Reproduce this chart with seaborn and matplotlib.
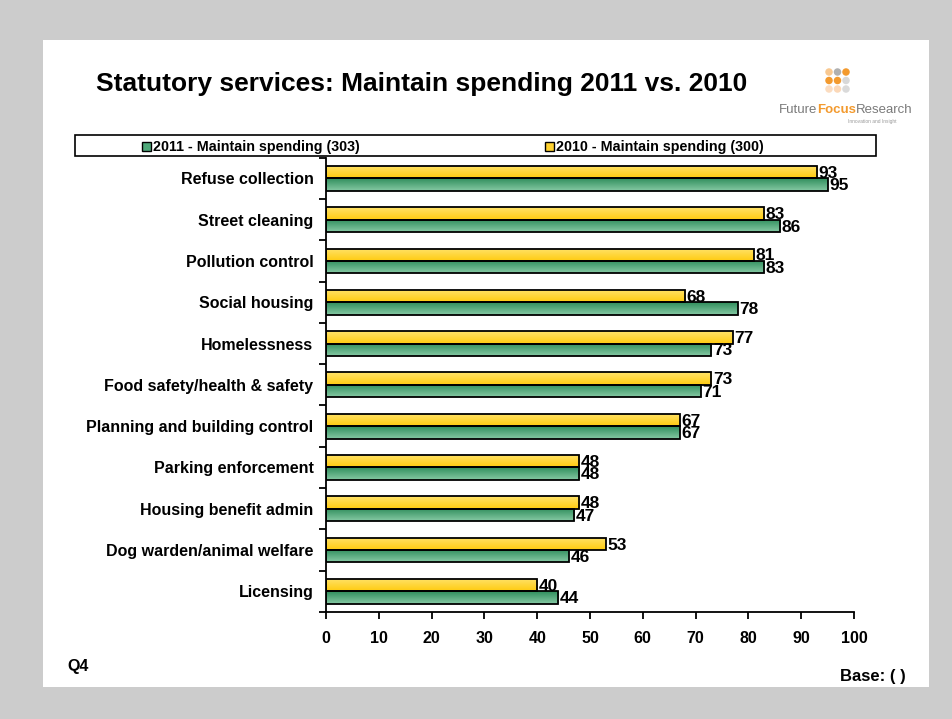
import numpy as np
import pandas as pd
import matplotlib
matplotlib.use("Agg")
import matplotlib.pyplot as plt
from matplotlib.patches import Rectangle, Ellipse
from matplotlib.colors import LinearSegmentedColormap
import seaborn as sns

# ---- data ----
services = [
    "Refuse collection", "Street cleaning", "Pollution control", "Social housing",
    "Homelessness", "Food safety/health & safety", "Planning and building control",
    "Parking enforcement", "Housing benefit admin", "Dog warden/animal welfare",
    "Licensing",
]
maintain_2011 = [95, 86, 83, 78, 73, 71, 67, 48, 47, 46, 44]
maintain_2010 = [93, 83, 81, 68, 77, 73, 67, 48, 48, 53, 40]
series_2011 = "2011 - Maintain spending (303)"
series_2010 = "2010 - Maintain spending (300)"
x_ticks = [0, 10, 20, 30, 40, 50, 60, 70, 80, 90, 100]

df = pd.DataFrame({
    "service": services * 2,
    "value": maintain_2010 + maintain_2011,
    "series": [series_2010] * len(services) + [series_2011] * len(services),
})

sns.set_theme(style="white")
plt.rcParams["font.family"] = ["Liberation Sans", "DejaVu Sans"]
plt.rcParams["font.weight"] = "bold"
plt.rcParams["text.color"] = "black"
plt.rcParams["xtick.labelcolor"] = "black"
plt.rcParams["ytick.labelcolor"] = "black"

W, H = 952, 719
fig = plt.figure(figsize=(W / 100, H / 100), dpi=100, facecolor="#cccccc")

# white slide panel (behind everything)
fig.patches.append(Rectangle((43 / W, 1 - 687 / H), 886 / W, 647 / H,
                             transform=fig.transFigure, facecolor="white",
                             edgecolor="none", zorder=-5))

ax = fig.add_axes([326 / W, 1 - 612 / H, (854 - 326) / W, (612 - 157.7) / H])
ax.set_facecolor("none")

yellow = "#FFD230"
green = "#4FA97A"
sns.barplot(data=df, y="service", x="value", hue="series",
            hue_order=[series_2010, series_2011], order=services,
            palette=[yellow, green], width=0.6, orient="h",
            edgecolor="black", linewidth=1.3, legend=False, ax=ax)

# vertical gradient fills clipped to each bar
grad_y = LinearSegmentedColormap.from_list("gy", ["#FFE36A", "#FFCB10"])
grad_g = LinearSegmentedColormap.from_list("gg", ["#2F8E5C", "#86C9A4"])
ramp = np.linspace(0, 1, 64).reshape(-1, 1)
for p in list(ax.patches):
    x0, y0 = p.get_x(), p.get_y()
    w, h = p.get_width(), p.get_height()
    if w <= 0:
        continue
    fc = p.get_facecolor()
    cmap = grad_y if fc[1] > 0.75 else grad_g
    im = ax.imshow(ramp, cmap=cmap, aspect="auto", interpolation="bilinear",
                   extent=[x0, x0 + w, y0 + h, y0], zorder=1.5)
    im.set_clip_path(p)
    p.set_facecolor("none")
    p.set_zorder(2)

# value labels
for cont, vals in zip(ax.containers, [maintain_2010, maintain_2011]):
    for bar, v in zip(cont, vals):
        ax.text(bar.get_x() + bar.get_width() + 0.3,
                bar.get_y() + bar.get_height() / 2 + 0.03, f"{v}",
                ha="left", va="center", fontsize=12.5, fontweight="bold",
                color="black", zorder=3)

ax.set_xlim(0, 100)
ax.set_ylim(len(services) - 0.5, -0.5)
ax.set_xticks(x_ticks)
ax.set_xticklabels([str(t) for t in x_ticks], fontsize=11.5, fontweight="bold")
ax.set_yticks(range(len(services)))
ax.set_yticklabels(services, fontsize=11.5, fontweight="bold")
ax.set_yticks(np.arange(-0.5, len(services), 1), minor=True)
ax.tick_params(axis="y", which="major", length=0, pad=9, labelcolor="black")
ax.tick_params(axis="y", which="minor", length=5, width=1.3, color="black",
               direction="out", left=True)
ax.tick_params(axis="x", which="major", length=5, width=1.3, color="black",
               direction="out", bottom=True, pad=9, labelcolor="black")
ax.set_xlabel("")
ax.set_ylabel("")
for side in ["top", "right"]:
    ax.spines[side].set_visible(False)
for side in ["left", "bottom"]:
    ax.spines[side].set_color("black")
    ax.spines[side].set_linewidth(1.3)

# title
fig.text(96 / W, 1 - 84 / H, "Statutory services: Maintain spending 2011 vs. 2010",
         ha="left", va="center", fontsize=19, fontweight="bold", color="black")

# legend box
fig.patches.append(Rectangle((75 / W, 1 - 156 / H), (876 - 75) / W, 21 / H,
                             transform=fig.transFigure, facecolor="white",
                             edgecolor="black", linewidth=1.2, zorder=3))
for sx, col, label in [(142, green, series_2011), (545, yellow, series_2010)]:
    fig.patches.append(Rectangle((sx / W, 1 - 151 / H), 9 / W, 9 / H,
                                 transform=fig.transFigure, facecolor=col,
                                 edgecolor="black", linewidth=1.0, zorder=4))
    fig.text((sx + 11) / W, 1 - 146.5 / H, label, ha="left", va="center",
             fontsize=10.3, fontweight="bold", color="black", zorder=5)

# logo
dot_colors = [["#F8C890", "#B0B0B0", "#F39A2E"],
              ["#F39A2E", "#F39A2E", "#D8D8D8"],
              ["#FBDCC0", "#FBD8B8", "#DADADA"]]
for r, row in enumerate(dot_colors):
    for c, col in enumerate(row):
        cx, cy = 829 + c * 8.5, 72 + r * 8.5
        fig.patches.append(Ellipse((cx / W, 1 - cy / H), 7.5 / W, 7.5 / H,
                                   transform=fig.transFigure, facecolor=col,
                                   edgecolor="none", zorder=3))
logo_y = 1 - 110 / H
t1 = fig.text(779 / W, logo_y, "Future", ha="left", va="center",
              fontsize=9.5, fontweight="normal", color="#7a7a7a")
fig.canvas.draw()
r = fig.canvas.get_renderer()
bb = t1.get_window_extent(r)
t2 = fig.text(bb.x1 / W, logo_y, "Focus", ha="left", va="center",
              fontsize=9.5, fontweight="bold", color="#F39A2E")
bb2 = t2.get_window_extent(r)
fig.text(bb2.x1 / W, logo_y, "Research", ha="left", va="center",
         fontsize=9.5, fontweight="normal", color="#7a7a7a")
fig.text(872 / W, 1 - 121 / H, "Innovation and Insight", ha="center",
         va="center", fontsize=3.5, fontweight="normal", color="#9a9a9a")

# footer notes
fig.text(67 / W, 1 - 667 / H, "Q4", ha="left", va="center",
         fontsize=11.5, fontweight="bold", color="black")
fig.text(906 / W, 1 - 676 / H, "Base: ( )", ha="right", va="center",
         fontsize=12, fontweight="bold", color="black")

fig.savefig("out.png", dpi=100, facecolor=fig.get_facecolor())
